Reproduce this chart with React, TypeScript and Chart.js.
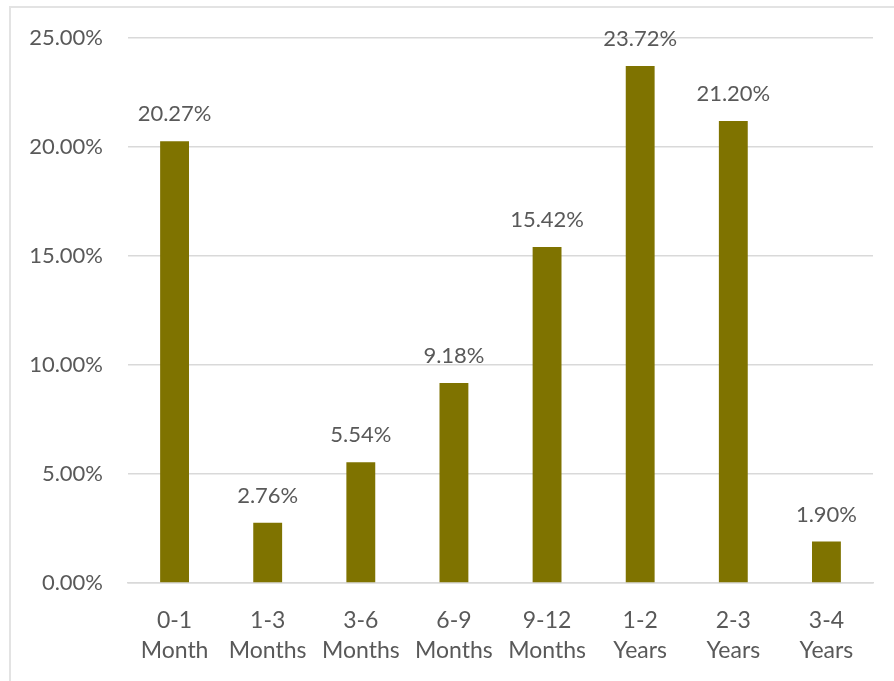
import React, { useEffect, useRef } from "react";
import { Chart, registerables } from "chart.js";

Chart.register(...registerables);

const categories: string[][] = [
  ["0-1", "Month"],
  ["1-3", "Months"],
  ["3-6", "Months"],
  ["6-9", "Months"],
  ["9-12", "Months"],
  ["1-2", "Years"],
  ["2-3", "Years"],
  ["3-4", "Years"],
];
const values: number[] = [20.27, 2.76, 5.54, 9.18, 15.42, 23.72, 21.2, 1.9];
const yTicks: number[] = [0, 5, 10, 15, 20, 25];

const FONT = "Lato, 'Open Sans', sans-serif";
const BAR_COLOR = "#7f7300";
const TEXT_COLOR = "#595959";

const dataLabelPlugin = {
  id: "dataLabels",
  afterDatasetsDraw(chart: any) {
    const ctx = chart.ctx;
    const meta = chart.getDatasetMeta(0);
    ctx.save();
    ctx.font = `22px ${FONT}`;
    ctx.fillStyle = TEXT_COLOR;
    ctx.textAlign = "center";
    ctx.textBaseline = "alphabetic";
    meta.data.forEach((bar: any, i: number) => {
      ctx.fillText(values[i].toFixed(2) + "%", bar.x, bar.y - 20);
    });
    ctx.restore();
  },
};

export default function App() {
  const ref = useRef<HTMLCanvasElement | null>(null);
  useEffect(() => {
    if (!ref.current) return;
    const chart = new Chart(ref.current, {
      type: "bar",
      data: {
        labels: categories,
        datasets: [
          {
            data: values,
            backgroundColor: BAR_COLOR,
            borderWidth: 0,
            barPercentage: 0.31,
            categoryPercentage: 1,
          },
        ],
      },
      options: {
        animation: false,
        responsive: false,
        maintainAspectRatio: false,
        layout: { padding: { top: 38, right: 21, bottom: 0, left: 0 } },
        plugins: {
          legend: { display: false },
          tooltip: { enabled: false },
        },
        scales: {
          x: {
            grid: { display: false, drawTicks: false },
            border: { display: true, color: "#d9d9d9", width: 1.5 },
            ticks: {
              color: TEXT_COLOR,
              font: { family: FONT, size: 23, lineHeight: 1.3 },
              padding: 23,
              maxRotation: 0,
              autoSkip: false,
            },
            afterFit(scale: any) {
              scale.height = 98;
            },
          },
          y: {
            min: 0,
            max: 25,
            afterBuildTicks(scale: any) {
              scale.ticks = yTicks.map((v) => ({ value: v }));
            },
            grid: { color: "#d9d9d9", lineWidth: 1.5, drawTicks: false },
            border: { display: false },
            ticks: {
              color: TEXT_COLOR,
              font: { family: FONT, size: 22 },
              padding: 25,
              callback: (v: any) => Number(v).toFixed(2) + "%",
            },
            afterFit(scale: any) {
              scale.width = 128;
            },
          },
        },
      },
      plugins: [dataLabelPlugin],
    });
    return () => chart.destroy();
  }, []);
  return (
    <div
      style={{
        position: "absolute",
        left: 0,
        top: 0,
        width: 894,
        height: 681,
        background: "#fff",
      }}
    >
      <div
        style={{
          position: "absolute",
          left: 9,
          top: 6,
          width: 900,
          height: 700,
          border: "2px solid #e3e3e3",
          boxSizing: "border-box",
        }}
      />
      <canvas
        ref={ref}
        width={894}
        height={681}
        style={{ position: "absolute", left: 0, top: 0, width: 894, height: 681 }}
      />
    </div>
  );
}
